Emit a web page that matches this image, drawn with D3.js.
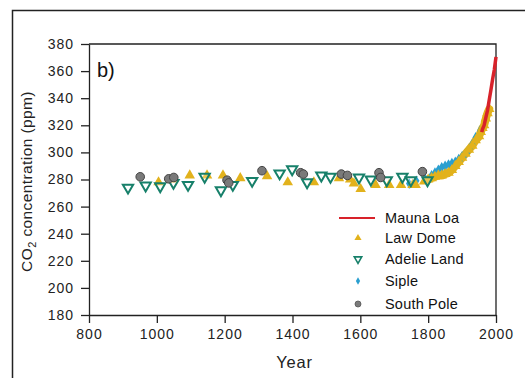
<!DOCTYPE html>
<html><head><meta charset="utf-8">
<script src="https://cdn.jsdelivr.net/npm/d3@7"></script>
<style>body{margin:0;background:#fff;}svg{display:block;font-family:"Liberation Sans",Arial,sans-serif;}</style>
</head><body><svg id="c" width="525" height="378"></svg>
<script>
// Data (year, ppm)
const maunaLoa = [[1958,315],[1960,317],[1965,320],[1970,325.7],[1975,331],[1980,338.7],[1985,346],[1990,354],[1995,361],[2000,370.5]];
const lawDome = [[1005,278],[1045,280],[1097,283],[1148,283],[1195,283],[1246,281],[1325,282.5],[1386,278],[1463,278],[1537,281],[1570,280],[1581,277],[1601,273],[1645,276],[1685,276],[1720,276],[1754,276],[1763,276],[1788,278.5],
 [1800,280],[1810,281],[1820,282],[1830,283],[1840,283],[1850,284],[1860,285],[1870,287],[1880,290],[1890,293],[1900,296],[1910,299],[1920,302],[1930,305],[1940,309],[1950,312],[1955,315],[1960,318],[1965,320],[1970,325],[1975,329],[1980,332]];
const adelieLand = [[915,274],[967,275.5],[1010,275],[1049,277.5],[1092,276],[1141,282],[1189,272],[1224,276],[1281,279],[1362,284.5],[1399,287.5],[1443,278],[1485,283],[1512,282],[1596,281.5],[1631,280],[1678,279.5],[1724,282],[1749,279.5],[1798,279.5]];
const siple = [[1744,277],[1765,279],[1790,281],[1810,283],[1820,285],[1830,287],[1840,289],[1850,290],[1860,291],[1870,292],[1880,293],[1890,295],[1900,297],[1910,299],[1920,302],[1930,306],[1940,311],[1953,316]];
const southPole = [[951,282],[1035,280.5],[1050,281.5],[1207,279.5],[1212,277.5],[1310,286.5],[1424,285],[1432,284],[1544,284],[1562,283],[1655,285],[1660,281.5],[1783,285.8]];
const xTicks = [800,1000,1200,1400,1600,1800,2000];
const yTicks = [180,200,220,240,260,280,300,320,340,360,380];
const legendItems = ["Mauna Loa","Law Dome","Adelie Land","Siple","South Pole"];

const svg = d3.select("#c");
const L=89, R=496, T=44, B=315;
const x = d3.scaleLinear().domain([800,2000]).range([L,R]);
const y = d3.scaleLinear().domain([180,380]).range([B,T]);
const FF = '"Liberation Sans",Arial,sans-serif';

// outer frame
svg.append("path").attr("d","M12.5,380 V10.5 H525").attr("fill","none").attr("stroke","#222").attr("stroke-width",1.5);

const cYellow="#E2B21C", cGreen="#17806A", cBlue="#2A9FD0", cGray="#7A7A7A", cRed="#D8222A";

// axes
const xa = svg.append("g").attr("transform",`translate(0,${B})`).call(d3.axisBottom(x).tickValues(xTicks).tickFormat(d3.format("d")).tickSize(8).tickSizeOuter(0).tickPadding(6));
const ya = svg.append("g").attr("transform",`translate(${L},0)`).call(d3.axisLeft(y).tickValues(yTicks).tickFormat(d3.format("d")).tickSize(8).tickSizeOuter(0).tickPadding(7));
[xa,ya].forEach(a=>{a.attr("font-family",FF).attr("font-size",14);a.selectAll("path,line").attr("stroke","#222").attr("stroke-width",1.3);a.selectAll("text").attr("fill","#222").attr("letter-spacing",1);});
// top & right frame of plot
svg.append("path").attr("d",`M${L},${T} H${R} V${B}`).attr("fill","none").attr("stroke","#222").attr("stroke-width",1.3);

svg.append("text").attr("x",(L+R)/2+2).attr("y",368).attr("text-anchor","middle").attr("font-size",16.5).attr("letter-spacing",0.8).attr("fill","#222").text("Year");
const yl = svg.append("text").attr("transform",`translate(32,${(T+B)/2+2}) rotate(-90)`).attr("text-anchor","middle").attr("font-size",15.5).attr("letter-spacing",0.4).attr("fill","#222");
yl.append("tspan").text("CO");
yl.append("tspan").attr("font-size",11).attr("dy",4).text("2");
yl.append("tspan").attr("dy",-4).text(" concentration (ppm)");

svg.append("text").attr("x",97).attr("y",77).attr("font-size",20).attr("fill","#111").text("b)");

const g = svg.append("g");
const triUp = d3.symbol().type(d3.symbolTriangle).size(48);
const triDown = d3.symbol().type(d3.symbolTriangle).size(46);
const diamond = d3.symbol().type(d3.symbolDiamond).size(34);

// Law Dome: dense ice-core band after 1800
g.append("path").datum(lawDome.filter(d=>d[0]>=1800)).attr("d",d3.line().x(d=>x(d[0])).y(d=>y(d[1])).curve(d3.curveMonotoneX)).attr("fill","none").attr("stroke",cYellow).attr("stroke-width",8).attr("stroke-linecap","round");
// Siple
g.selectAll(".sp").data(siple).join("path").attr("d",diamond).attr("transform",d=>`translate(${x(d[0])},${y(d[1])})`).attr("fill",cBlue);
g.selectAll(".ld").data(lawDome).join("path").attr("d",triUp).attr("transform",d=>`translate(${x(d[0])},${y(d[1])})`).attr("fill",cYellow);
// Adelie Land
g.selectAll(".al").data(adelieLand).join("path").attr("d",triDown).attr("transform",d=>`translate(${x(d[0])},${y(d[1])}) rotate(180)`).attr("fill","rgba(255,255,255,0.25)").attr("stroke",cGreen).attr("stroke-width",2);
// South Pole
g.selectAll(".so").data(southPole).join("circle").attr("cx",d=>x(d[0])).attr("cy",d=>y(d[1])).attr("r",4.3).attr("fill",cGray).attr("stroke","#444").attr("stroke-width",1);
// Mauna Loa
g.append("path").datum(maunaLoa).attr("d",d3.line().x(d=>x(d[0])).y(d=>y(d[1]))).attr("fill","none").attr("stroke",cRed).attr("stroke-width",3.5);

// legend
const lg = svg.append("g");
const ly = [218,238,259,281,304];
legendItems.forEach((name,i)=>{
  const yy = ly[i];
  if(i===0) lg.append("line").attr("x1",339).attr("x2",375).attr("y1",yy).attr("y2",yy).attr("stroke",cRed).attr("stroke-width",2);
  else if(i===1) lg.append("path").attr("d",d3.symbol().type(d3.symbolTriangle).size(22)).attr("transform",`translate(358,${yy})`).attr("fill",cYellow);
  else if(i===2) lg.append("path").attr("d",d3.symbol().type(d3.symbolTriangle).size(24)).attr("transform",`translate(358,${yy}) rotate(180)`).attr("fill","#fff").attr("stroke",cGreen).attr("stroke-width",1.6);
  else if(i===3) lg.append("path").attr("d",d3.symbol().type(d3.symbolDiamond).size(16)).attr("transform",`translate(358,${yy})`).attr("fill",cBlue);
  else lg.append("circle").attr("cx",358).attr("cy",yy).attr("r",3).attr("fill",cGray).attr("stroke","#555").attr("stroke-width",0.8);
  lg.append("text").attr("x",385).attr("y",yy+5).attr("font-size",14.5).attr("letter-spacing",0.2).attr("fill","#111").text(name);
});
</script></body></html>
